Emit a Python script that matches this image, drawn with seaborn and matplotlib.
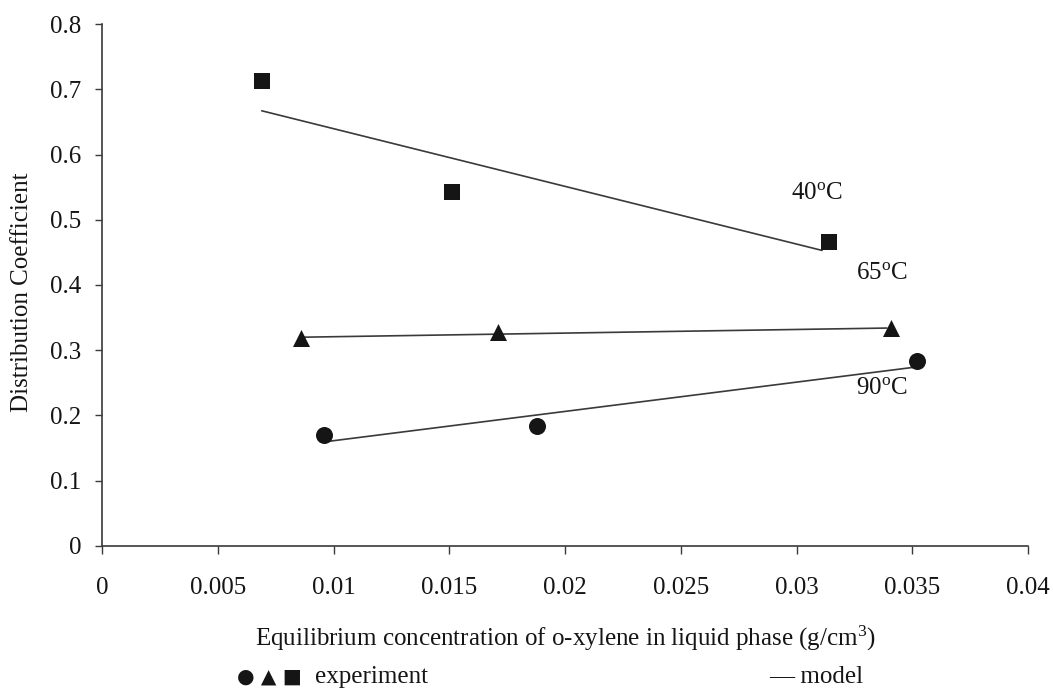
import numpy as np
import pandas as pd
import matplotlib
matplotlib.use("Agg")
import matplotlib.pyplot as plt
import seaborn as sns

# Experimental distribution coefficients at three temperatures
temps = ["40", "65", "90"]
conc_40 = [0.0069, 0.0151, 0.0314]
kd_40 = [0.713, 0.543, 0.466]
conc_65 = [0.0086, 0.0171, 0.0341]
kd_65 = [0.318, 0.328, 0.334]
conc_90 = [0.0096, 0.0188, 0.0352]
kd_90 = [0.170, 0.184, 0.284]

# Model lines (end points of each fitted line)
model_conc_40 = [0.0069, 0.0311]
model_kd_40 = [0.667, 0.453]
model_conc_65 = [0.0087, 0.0339]
model_kd_65 = [0.320, 0.334]
model_conc_90 = [0.0097, 0.0351]
model_kd_90 = [0.160, 0.274]

x_ticks = [0, 0.005, 0.01, 0.015, 0.02, 0.025, 0.03, 0.035, 0.04]
x_tick_labels = ["0", "0.005", "0.01", "0.015", "0.02", "0.025", "0.03", "0.035", "0.04"]
y_ticks = [0, 0.1, 0.2, 0.3, 0.4, 0.5, 0.6, 0.7, 0.8]
y_tick_labels = ["0", "0.1", "0.2", "0.3", "0.4", "0.5", "0.6", "0.7", "0.8"]

sns.set_theme(style="ticks")
plt.rcParams["font.family"] = ["Liberation Serif", "DejaVu Sans"]
plt.rcParams["mathtext.fontset"] = "custom"
plt.rcParams["mathtext.rm"] = "Liberation Serif"
plt.rcParams["mathtext.it"] = "Liberation Serif:italic"

ink = "#151515"
line_col = "#3a3a3a"
fs = 18

fig = plt.figure(figsize=(10.53, 6.94), dpi=100)
ax = fig.add_axes([0.0969, 0.2133, 0.8794, 0.7521])

exp_df = pd.concat([
    pd.DataFrame({"conc": conc_40, "kd": kd_40, "temp": "40"}),
    pd.DataFrame({"conc": conc_65, "kd": kd_65, "temp": "65"}),
    pd.DataFrame({"conc": conc_90, "kd": kd_90, "temp": "90"}),
], ignore_index=True)

model_df = pd.concat([
    pd.DataFrame({"conc": model_conc_40, "kd": model_kd_40, "temp": "40"}),
    pd.DataFrame({"conc": model_conc_65, "kd": model_kd_65, "temp": "65"}),
    pd.DataFrame({"conc": model_conc_90, "kd": model_kd_90, "temp": "90"}),
], ignore_index=True)

# model lines
sns.lineplot(data=model_df, x="conc", y="kd", units="temp", estimator=None,
             color=line_col, linewidth=1.2, sort=False, ax=ax, legend=False)

# experimental points
marker_of = {"40": "s", "65": "^", "90": "o"}
size_of = {"40": 118, "65": 150, "90": 150}
for t in temps:
    sub = exp_df[exp_df["temp"] == t]
    sns.scatterplot(data=sub, x="conc", y="kd", marker=marker_of[t],
                    s=size_of[t], color=ink, edgecolor=ink, linewidth=0,
                    ax=ax, legend=False, zorder=3)

ax.set_xlim(0, 0.04)
ax.set_ylim(0, 0.8)
ax.set_xticks(x_ticks)
ax.set_xticklabels(x_tick_labels)
ax.set_yticks(y_ticks)
ax.set_yticklabels(y_tick_labels)
ax.tick_params(axis="x", direction="out", length=6, width=1.0, color=line_col,
               pad=16, labelsize=fs, labelcolor=ink)
ax.tick_params(axis="y", direction="out", length=5, width=1.0, color=line_col,
               pad=10, labelsize=fs, labelcolor=ink)
for side in ["top", "right"]:
    ax.spines[side].set_visible(False)
for side in ["left", "bottom"]:
    ax.spines[side].set_color(line_col)
    ax.spines[side].set_linewidth(1.2)

ax.set_xlabel("Equilibrium concentration of o-xylene in liquid phase (g/cm$^\\mathregular{3}$)",
              fontsize=fs, color=ink)
ax.xaxis.set_label_coords(0.5, -(646 - 546) / 522)
ax.xaxis.label.set_verticalalignment("baseline")
ax.set_ylabel("Distribution Coefficient", fontsize=fs, color=ink)
ax.yaxis.set_label_coords(-0.0864, (546 - 292) / 522)
ax.yaxis.label.set_verticalalignment("center")

# temperature labels beside each series
ax.text(0.0309, 0.541, "40$^\\mathregular{o}$C", fontsize=fs, color=ink, ha="center", va="center")
ax.text(0.0337, 0.418, "65$^\\mathregular{o}$C", fontsize=fs, color=ink, ha="center", va="center")
ax.text(0.0337, 0.242, "90$^\\mathregular{o}$C", fontsize=fs, color=ink, ha="center", va="center")

# key below the axis title
key_y = 1 - 677 / 694
fig.text(237 / 1053, key_y, "\u25CF \u25B2 \u25A0", fontsize=14.5, color=ink,
         family="DejaVu Sans", ha="left", va="center")
fig.text(315 / 1053, key_y, "experiment", fontsize=fs, color=ink,
         ha="left", va="center")
fig.text(769 / 1053, key_y, "\u2014 model", fontsize=fs, color=ink,
         ha="left", va="center")

fig.savefig("out.png", dpi=100, facecolor="white")
